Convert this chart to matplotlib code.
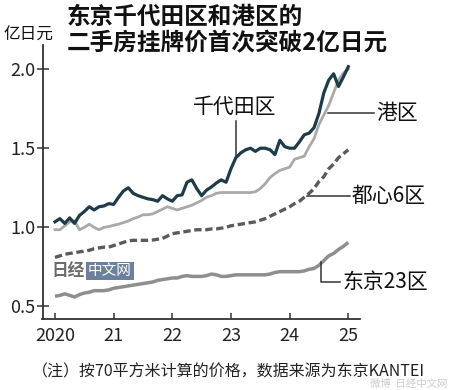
import numpy as np
import matplotlib
matplotlib.use("Agg")
import matplotlib.pyplot as plt

plt.rcParams['font.family'] = ['Noto Sans CJK SC', 'DejaVu Sans']

# monthly data, Jan 2020 .. Jan 2025 (100 million yen)
months = np.arange(61)
years = 2020 + months / 12.0

chiyoda = [1.035, 1.055, 1.025, 1.06, 1.025, 1.075, 1.10, 1.13, 1.11, 1.13,
           1.135, 1.15, 1.145, 1.19, 1.23, 1.25, 1.215, 1.20, 1.19, 1.18,
           1.175, 1.165, 1.20, 1.18, 1.165, 1.20, 1.205, 1.285, 1.30, 1.245,
           1.20, 1.235, 1.255, 1.28, 1.30, 1.285, 1.37, 1.44, 1.47, 1.49,
           1.50, 1.48, 1.50, 1.50, 1.49, 1.46, 1.55, 1.51, 1.50, 1.50,
           1.54, 1.585, 1.595, 1.63, 1.72, 1.85, 1.93, 1.97, 1.89, 1.95, 2.015]

minato = [0.985, 0.985, 1.01, 1.035, 1.04, 0.985, 1.00, 1.02, 1.00, 0.985,
          1.00, 1.005, 1.013, 1.02, 1.03, 1.04, 1.055, 1.065, 1.08, 1.08,
          1.085, 1.10, 1.115, 1.13, 1.12, 1.11, 1.12, 1.13, 1.14, 1.155,
          1.17, 1.19, 1.20, 1.215, 1.22, 1.22, 1.22, 1.22, 1.22, 1.22,
          1.22, 1.225, 1.245, 1.275, 1.315, 1.34, 1.36, 1.37, 1.38, 1.43,
          1.44, 1.45, 1.51, 1.56, 1.65, 1.71, 1.77, 1.85, 1.93, 1.975, 2.0]

central6 = [0.81, 0.82, 0.83, 0.835, 0.84, 0.845, 0.85, 0.855, 0.865, 0.87,
            0.875, 0.875, 0.885, 0.895, 0.905, 0.915, 0.918, 0.918, 0.918, 0.918,
            0.92, 0.925, 0.93, 0.945, 0.96, 0.965, 0.97, 0.975, 0.98, 0.985,
            0.985, 0.985, 0.99, 0.99, 0.995, 1.0, 1.01, 1.015, 1.02, 1.025,
            1.03, 1.035, 1.045, 1.055, 1.07, 1.085, 1.10, 1.115, 1.13, 1.15,
            1.165, 1.19, 1.215, 1.245, 1.29, 1.32, 1.37, 1.40, 1.44, 1.465, 1.49]

tokyo23 = [0.565, 0.57, 0.58, 0.57, 0.56, 0.575, 0.585, 0.59, 0.60, 0.60,
           0.60, 0.605, 0.615, 0.62, 0.625, 0.63, 0.635, 0.64, 0.645, 0.65,
           0.655, 0.665, 0.67, 0.675, 0.68, 0.68, 0.69, 0.695, 0.69, 0.69,
           0.69, 0.695, 0.705, 0.70, 0.69, 0.69, 0.695, 0.70, 0.70, 0.70,
           0.70, 0.70, 0.70, 0.70, 0.705, 0.715, 0.72, 0.72, 0.72, 0.72,
           0.72, 0.725, 0.735, 0.74, 0.76, 0.79, 0.82, 0.835, 0.86, 0.88, 0.905]

xticks = [2020, 2021, 2022, 2023, 2024, 2025]
xticklabels = ['2020', '21', '22', '23', '24', '25']
yticks = [0.5, 1.0, 1.5, 2.0]
yticklabels = ['0.5', '1.0', '1.5', '2.0']

W, H = 450, 390
fig = plt.figure(figsize=(W / 100, H / 100), dpi=100)
fig.patch.set_facecolor('white')

def fx(px):
    return px / W

def fy(py):
    return 1 - py / H

# axes: left spine x=42.5, bottom y=319, top y=45, right x=360
ax = fig.add_axes([fx(42.5), fy(319), (360 - 42.5) / W, (319 - 45) / H])
ax.set_xlim(2019.787, 2025.2)
ax.set_ylim(0.421, 2.152)

ax.plot(years, tokyo23, color='#8e8e8e', lw=2.5, solid_capstyle='butt', zorder=2)
ax.plot(years, central6, color='#5a5a5a', lw=2.4, ls=(0, (2.2, 1.1)), zorder=2)
ax.plot(years, minato, color='#a9a9a9', lw=2.0, zorder=3)
ax.plot(years, chiyoda, color='#1e3b4a', lw=2.3, zorder=4)

for s in ['top', 'right']:
    ax.spines[s].set_visible(False)
for s in ['left', 'bottom']:
    ax.spines[s].set_color('#333333')
    ax.spines[s].set_linewidth(1.3)

ax.set_xticks(xticks)
ax.set_xticklabels(xticklabels)
ax.set_yticks(yticks)
ax.set_yticklabels(yticklabels)
ax.tick_params(axis='x', direction='in', length=4, width=1.1, color='#333333',
               labelsize=13, pad=6, labelcolor='#222222')
ax.tick_params(axis='y', direction='inout', length=8, width=1.1, color='#333333',
               labelsize=13, pad=1, labelcolor='#222222')

def px2data(px, py):
    inv = ax.transData.inverted()
    return inv.transform((px, H - py))

lc = '#333333'
def seg(points):
    pts = [px2data(x, y) for x, y in points]
    xs = [p[0] for p in pts]
    ys = [p[1] for p in pts]
    ax.plot(xs, ys, color=lc, lw=1.1, zorder=5, clip_on=False)

# series labels
fig.text(fx(235), fy(107), '千代田区', fontsize=15, ha='center', va='center', color='#111111')
seg([(236.5, 121), (236.5, 156)])

fig.text(fx(376), fy(113), '港区', fontsize=15, ha='left', va='center', color='#111111')
seg([(328, 113), (374, 113)])

fig.text(fx(352), fy(196), '都心6区', fontsize=15, ha='left', va='center', color='#111111')
seg([(307, 196), (350, 196)])

fig.text(fx(342), fy(282), '东京23区', fontsize=15, ha='left', va='center', color='#111111')
seg([(321.5, 262), (321.5, 282), (340, 282)])

# title and unit
fig.text(fx(67), fy(17), '东京千代田区和港区的', fontsize=17, fontweight='bold',
         ha='left', va='center', color='#111111')
fig.text(fx(67), fy(43), '二手房挂牌价首次突破2亿日元', fontsize=17, fontweight='bold',
         ha='left', va='center', color='#111111')
fig.text(fx(3), fy(35), '亿日元', fontsize=12, ha='left', va='center', color='#111111')

# footnote
fig.text(fx(32), fy(372), '（注）按70平方米计算的价格，数据来源为东京KANTEI', fontsize=11.5,
         ha='left', va='center', color='#222222')

# watermark logo
fig.text(fx(68), fy(271), '日经', fontsize=12, fontweight='bold', ha='center', va='center',
         color='#6b6b6b', style='italic')
fig.text(fx(110), fy(271), '中文网', fontsize=10.5, ha='center', va='center', color='white',
         bbox=dict(boxstyle='square,pad=0.15', fc='#6c7f9c', ec='none'))
fig.text(fx(447), fy(384), '微博  日经中文网', fontsize=7.5, ha='right', va='center',
         color='#cccccc')

fig.savefig('out.png', dpi=100, facecolor='white')
